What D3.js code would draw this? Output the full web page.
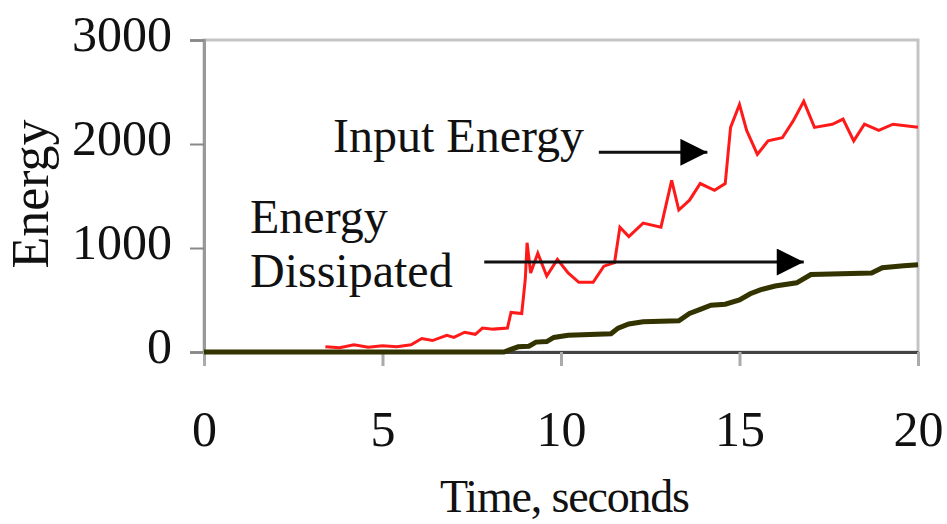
<!DOCTYPE html>
<html>
<head>
<meta charset="utf-8">
<script src="https://cdn.jsdelivr.net/npm/d3@7"></script>
<style>
body{margin:0;background:#fff}
text{font-family:"Liberation Serif","Times New Roman",serif;fill:#111}
</style>
</head>
<body>
<script>
const w=947;
const h=524;

// data
const inputTime=[3.4,3.8,4.2,4.6,5.0,5.4,5.8,6.1,6.4,6.8,7.0,7.3,7.6,7.8,8.1,8.5,8.6,8.9,9.0,9.05,9.15,9.35,9.6,9.9,10.2,10.5,10.9,11.2,11.5,11.65,11.9,12.3,12.8,13.1,13.3,13.6,13.9,14.3,14.6,14.75,15.0,15.2,15.5,15.8,16.2,16.5,16.8,17.1,17.6,17.9,18.2,18.5,18.9,19.3,20.0];
const inputEnergy=[50,40,70,45,60,50,70,130,110,160,140,190,170,230,220,230,380,370,700,1050,760,950,730,890,760,670,670,825,860,1200,1110,1240,1200,1650,1365,1460,1620,1555,1620,2160,2380,2130,1900,2030,2060,2220,2410,2160,2190,2240,2030,2190,2130,2190,2160];

const dissTime=[0,8.4,8.8,9.1,9.3,9.6,9.8,10.2,11.4,11.6,11.9,12.3,13.3,13.6,13.9,14.2,14.6,15.0,15.3,15.6,16.0,16.6,17.0,18.7,19.0,19.6,20];
const dissEnergy=[0,0,50,55,95,100,140,160,175,230,270,290,300,370,410,450,460,500,560,600,635,665,745,760,810,830,840];

const xTicks=[0,5,10,15,20];
const yTicks=[0,1000,2000,3000];

let svg=d3.select("body")
  .append("svg")
  .attr("width",w)
  .attr("height",h);

x=d3.scaleLinear().domain([0,20]).range([204,918]);
y=d3.scaleLinear().domain([0,3000]).range([352,40]);

// plot frame
svg.append("rect")
  .attr("x",x(0)).attr("y",y(3000))
  .attr("width",x(20)-x(0)).attr("height",y(0)-y(3000))
  .attr("fill","none").attr("stroke","#c4c4c4").attr("stroke-width",3);

// axes
let yAxis=d3.axisLeft(y).tickValues(yTicks).tickFormat(d3.format("d")).tickSize(14).tickPadding(18);
let gy=svg.append("g").attr("transform","translate("+x(0)+",0)").call(yAxis);
gy.select(".domain").attr("stroke","#999").attr("stroke-width",3);
gy.selectAll(".tick line").attr("stroke","#888").attr("stroke-width",2);
gy.selectAll(".tick text").style("font-size","50px").attr("dy","0.2em");

let xAxis=d3.axisBottom(x).tickValues(xTicks).tickSize(14).tickPadding(44).tickSizeOuter(0);
let gx=svg.append("g").attr("transform","translate(0,"+y(0)+")").call(xAxis);
gx.select(".domain").attr("stroke","#444").attr("stroke-width",3);
gx.selectAll(".tick line").attr("stroke","#aaa").attr("stroke-width",3);
gx.selectAll(".tick text").style("font-size","50px");

svg.append("text")
  .attr("transform","translate(48,194) rotate(-90)")
  .attr("text-anchor","middle")
  .style("font-size","52px")
  .text("Energy");

svg.append("text")
  .attr("x",565).attr("y",512)
  .attr("text-anchor","middle")
  .attr("textLength",250)
  .style("font-size","46px")
  .text("Time, seconds");

// lines
let line=d3.line().x(d => x(d[0])).y(d => y(d[1]));

svg.append("path")
  .datum(dissTime.map((t,i) => [t,dissEnergy[i]]))
  .attr("d",line)
  .attr("fill","none")
  .attr("stroke","#333300")
  .attr("stroke-width",5);

svg.append("path")
  .datum(inputTime.map((t,i) => [t,inputEnergy[i]]))
  .attr("d",line)
  .attr("fill","none")
  .attr("stroke","#ff1a1a")
  .attr("stroke-width",3);

// annotations
svg.append("defs").append("marker")
  .attr("id","head")
  .attr("viewBox","0 0 10 10")
  .attr("refX",10).attr("refY",5)
  .attr("markerWidth",11).attr("markerHeight",9)
  .attr("markerUnits","strokeWidth")
  .attr("orient","auto")
  .append("path").attr("d","M0,0L10,5L0,10z").attr("fill","#000");

function arrow(t0,t1,e){
  svg.append("line")
    .attr("x1",x(t0)).attr("x2",x(t1))
    .attr("y1",y(e)).attr("y2",y(e))
    .attr("stroke","#111").attr("stroke-width",3)
    .attr("marker-end","url(#head)");
}
arrow(11.06,14.1,1920);
arrow(7.85,16.8,865);

svg.append("text").attr("x",333).attr("y",152).style("font-size","48px").text("Input Energy");
svg.append("text").attr("x",250).attr("y",233).style("font-size","48px").text("Energy");
svg.append("text").attr("x",250).attr("y",287).style("font-size","48px").text("Dissipated");
</script>
</body>
</html>
